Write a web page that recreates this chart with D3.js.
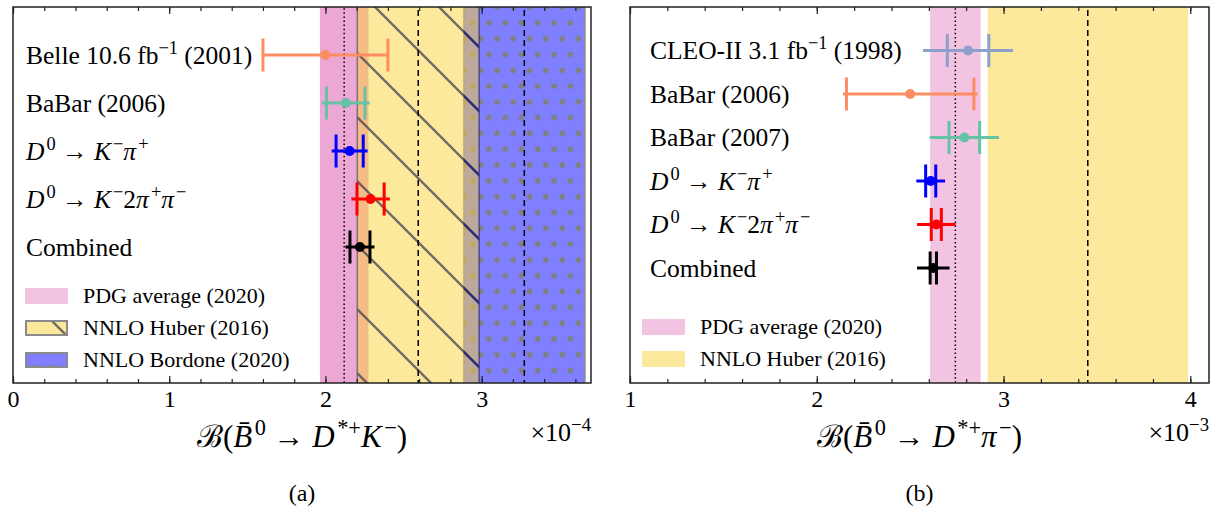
<!DOCTYPE html>
<html>
<head>
<meta charset="utf-8">
<script src="https://cdn.jsdelivr.net/npm/d3@7"></script>
<style>
  body { margin: 0; background: #fff; }
  svg { display: block; }
  text { font-family: "Liberation Serif", "DejaVu Serif", serif; fill: #000; }
</style>
</head>
<body>
<div id="chart"></div>
<script>
'use strict';

// panel (a): B0bar -> D*+ K-  (units 1e-4)
var kLabels = ['Belle 10.6 fb{s:\u22121} (2001)', 'BaBar (2006)',
  '{i:D}{s:0} \u2192 {i:K}{s:\u2212}{i:\u03c0}{s:+}',
  '{i:D}{s:0} \u2192 {i:K}{s:\u2212}2{i:\u03c0}{s:+}{i:\u03c0}{s:\u2212}', 'Combined'];
var kValues = [2.00, 2.13, 2.155, 2.289, 2.221];
var kErrCap = [0.40, 0.123, 0.087, 0.087, 0.064];
var kErrLine = [0.40, 0.153, 0.115, 0.123, 0.093];
var kColors = ['#fc8d62', '#66c2a5', '#0000ff', '#ff0000', '#000000'];
var kPdg = [2.12, 0.155];
var kHuber = [2.594, 0.39];
var kBordone = [3.273, 0.388];
var kTicks = [0, 1, 2, 3];
var kLegend = ['PDG average (2020)', 'NNLO Huber (2016)', 'NNLO Bordone (2020)'];

// panel (b): B0bar -> D*+ pi-  (units 1e-3)
var pLabels = ['CLEO-II 3.1 fb{s:\u22121} (1998)', 'BaBar (2006)', 'BaBar (2007)',
  '{i:D}{s:0} \u2192 {i:K}{s:\u2212}{i:\u03c0}{s:+}',
  '{i:D}{s:0} \u2192 {i:K}{s:\u2212}2{i:\u03c0}{s:+}{i:\u03c0}{s:\u2212}', 'Combined'];
var pValues = [2.81, 2.50, 2.79, 2.61, 2.64, 2.624];
var pErrCap = [0.111, 0.341, 0.082, 0.027, 0.027, 0.017];
var pErrLine = [0.241, 0.36, 0.186, 0.077, 0.103, 0.087];
var pColors = ['#8da0cb', '#fc8d62', '#66c2a5', '#0000ff', '#ff0000', '#000000'];
var pPdg = [2.742, 0.135];
var pHuber = [3.451, 0.536];
var pTicks = [1, 2, 3, 4];
var pLegend = ['PDG average (2020)', 'NNLO Huber (2016)'];

var W = 1228, H = 512;
var PINK = 'rgba(229,137,197,0.5)', YELLOW = 'rgba(251,211,55,0.5)', BLUE = 'rgba(0,0,255,0.5)';

var svg = d3.select('#chart').append('svg').attr('width', W).attr('height', H);
var defs = svg.append('defs');

// hatch for Huber band
function hatch(id, col) {
  var p = defs.append('pattern').attr('id', id).attr('patternUnits', 'userSpaceOnUse')
    .attr('x', 0).attr('y', 16).attr('width', 64).attr('height', 64);
  p.append('path').attr('d', 'M-8,-8L72,72M-8,56L8,72M56,-8L72,8')
    .attr('stroke', col).attr('stroke-width', 2.4).attr('fill', 'none');
}
hatch('hatch', 'rgba(60,60,80,0.72)');
hatch('hatchBlue', 'rgba(30,30,120,0.78)');

var dots = defs.append('pattern').attr('id', 'dots').attr('patternUnits', 'userSpaceOnUse')
  .attr('x', 4).attr('y', 3).attr('width', 16.3).attr('height', 31.6);
dots.append('circle').attr('cx', 4).attr('cy', 4).attr('r', 2.8).attr('fill', '#808080');
dots.append('circle').attr('cx', 12.15).attr('cy', 19.8).attr('r', 2.8).attr('fill', '#808080');

// {i:..} italic, {s:..} superscript
function richText(sel, str, size) {
  var re = /\{([is]):([^}]*)\}|([^{]+)/g, m, up = false, sh = size * 0.4, prev = 'n';
  while ((m = re.exec(str))) {
    var kind = m[1] || 'n', txt = m[1] ? m[2] : m[3];
    var t = sel.append('tspan').text(txt);
    if (kind === 's') {
      t.attr('font-size', size * 0.72);
      if (!up) { t.attr('dy', -sh); up = true; }
      if (prev === 'i') t.attr('dx', size * 0.08);
    } else {
      if (up) { t.attr('dy', sh); up = false; }
      if (kind === 'i') t.attr('font-style', 'italic');
    }
    prev = kind;
  }
  return sel;
}

function panel(o) {
  var x = d3.scaleLinear().domain(o.xDomain).range([o.left, o.right]);
  var y = d3.scaleLinear().domain(o.yDomain).range([7, 383]);
  var g = svg.append('g');
  var clipId = 'clip' + o.name;
  defs.append('clipPath').attr('id', clipId).append('rect')
    .attr('x', o.left).attr('y', 7).attr('width', o.right - o.left).attr('height', 376);
  var plot = g.append('g').attr('clip-path', 'url(#' + clipId + ')');

  function band(b, fill) {
    return plot.append('rect').attr('x', x(b[0] - b[1])).attr('y', 0)
      .attr('width', x(b[0] + b[1]) - x(b[0] - b[1])).attr('height', H).attr('fill', fill);
  }
  function vline(v, dash, col, w) {
    plot.append('line').attr('x1', x(v)).attr('x2', x(v)).attr('y1', 0).attr('y2', H)
      .attr('stroke', col || '#000').attr('stroke-width', w || 1.5)
      .attr('stroke-dasharray', dash);
  }

  // PDG band (drawn twice in (a))
  for (var i = 0; i < o.pdgLayers; i++) band(o.pdg, PINK);
  if (o.bordone) {
    band(o.bordone, BLUE);
    band(o.bordone, 'url(#dots)');
    vline(o.bordone[0] - o.bordone[1], null, 'rgba(110,110,140,0.6)', 1.5);
    vline(o.bordone[0] + o.bordone[1], null, 'rgba(140,140,140,0.8)', 2);
  }
  band(o.huber, YELLOW);
  if (o.hatched) {
    band(o.huber, 'url(#hatch)');
    var lo = Math.max(o.huber[0] - o.huber[1], o.bordone[0] - o.bordone[1]);
    var hi = Math.min(o.huber[0] + o.huber[1], o.bordone[0] + o.bordone[1]);
    band([(lo + hi) / 2, (hi - lo) / 2], 'url(#hatchBlue)');
    vline(o.huber[0] - o.huber[1], null, 'rgba(90,90,100,0.75)', 1.5);
    vline(o.huber[0] + o.huber[1], null, 'rgba(50,50,120,0.75)', 1.5);
  }
  vline(o.pdg[0], '1.5,2.6');
  vline(o.huber[0], '6,4');
  if (o.bordone) vline(o.bordone[0], '6,4');

  // measurements
  var rows = plot.selectAll('g.pt').data(o.values).enter().append('g')
    .attr('transform', function(d, i) { return 'translate(0,' + y(i) + ')'; });
  rows.append('line')
    .attr('x1', function(d, i) { return x(d - o.errLine[i]); })
    .attr('x2', function(d, i) { return x(d + o.errLine[i]); })
    .attr('stroke', function(d, i) { return o.colors[i]; }).attr('stroke-width', 3);
  [-1, 1].forEach(function(s) {
    rows.append('line')
      .attr('x1', function(d, i) { return x(d + s * o.errCap[i]); })
      .attr('x2', function(d, i) { return x(d + s * o.errCap[i]); })
      .attr('y1', -16.5).attr('y2', 16.5)
      .attr('stroke', function(d, i) { return o.colors[i]; }).attr('stroke-width', 3);
  });
  rows.append('circle').attr('cx', function(d) { return x(d); }).attr('r', 5)
    .attr('fill', function(d, i) { return o.colors[i]; });

  // row labels
  o.labels.forEach(function(l, i) {
    richText(g.append('text').attr('x', o.left + o.labelOffset).attr('y', y(i) + 9)
      .attr('font-size', 25.5), l, 25.5);
  });

  // legend
  o.legend.forEach(function(l, i) {
    var ly = o.legendY + i * 32;
    var lx = o.left + 12;
    var fill = [PINK, YELLOW, BLUE][i];
    if (i === 0 || !o.hatched) {
      g.append('rect').attr('x', lx).attr('y', ly - 8).attr('width', 43).attr('height', 16).attr('fill', fill);
    } else {
      var cid = 'lg' + o.name + i;
      defs.append('clipPath').attr('id', cid).append('rect')
        .attr('x', lx).attr('y', ly - 8).attr('width', 43).attr('height', 16);
      var lg = g.append('g').attr('clip-path', 'url(#' + cid + ')');
      lg.append('rect').attr('x', lx).attr('y', ly - 8).attr('width', 43).attr('height', 16).attr('fill', fill);
      if (i === 1) {
        lg.append('line').attr('x1', lx + 24).attr('y1', ly - 10).attr('x2', lx + 43).attr('y2', ly + 9)
          .attr('stroke', 'rgba(60,60,80,0.72)').attr('stroke-width', 2.4);
      } else {
        [10, 26].forEach(function(dx) {
          lg.append('circle').attr('cx', lx + dx).attr('cy', ly + 8).attr('r', 3.2).attr('fill', '#808080');
        });
      }
      g.append('rect').attr('x', lx + 1).attr('y', ly - 7).attr('width', 41).attr('height', 14)
        .attr('fill', 'none').attr('stroke', '#8a8a8a').attr('stroke-width', 2);
    }
    g.append('text').attr('x', lx + 58).attr('y', ly + 7).attr('font-size', 22).text(l);
  });

  // ticks and frame
  var minor = d3.range(o.xDomain[0], o.xDomain[1] + 1e-9, 0.2);
  var ax = [
    [d3.axisBottom(x).tickValues(minor).tickFormat('').tickSizeInner(-4).tickSizeOuter(0), 383],
    [d3.axisBottom(x).tickValues(o.ticks).tickFormat(d3.format('d')).tickSizeInner(-7).tickSizeOuter(0).tickPadding(7), 383],
    [d3.axisTop(x).tickValues(minor).tickFormat('').tickSizeInner(-4).tickSizeOuter(0), 7],
    [d3.axisTop(x).tickValues(o.ticks).tickFormat('').tickSizeInner(-7).tickSizeOuter(0), 7]
  ];
  ax.forEach(function(a) {
    var ag = g.append('g').attr('transform', 'translate(0,' + a[1] + ')').call(a[0]);
    ag.attr('font-size', 24).attr('font-family', '"Liberation Serif", serif');
    ag.select('.domain').remove();
    ag.selectAll('line').attr('stroke', '#222').attr('stroke-width', 1.2);
    ag.selectAll('text').attr('fill', '#000');
  });
  g.append('rect').attr('x', o.left).attr('y', 7).attr('width', o.right - o.left).attr('height', 376)
    .attr('fill', 'none').attr('stroke', '#222').attr('stroke-width', 1.5);

  var cx = (o.left + o.right) / 2;
  richText(g.append('text').attr('x', cx).attr('y', 447).attr('text-anchor', 'middle')
    .attr('font-size', 31), o.xlabel, 31);
  richText(g.append('text').attr('x', o.right).attr('y', 441).attr('text-anchor', 'end')
    .attr('font-size', 26), o.mult, 26);
  g.append('text').attr('x', cx).attr('y', 501).attr('text-anchor', 'middle')
    .attr('font-size', 24).text(o.tag);
}

panel({
  name: 'a', left: 13, right: 591, xDomain: [0, 3.7], yDomain: [-1, 6.833],
  values: kValues, errCap: kErrCap, errLine: kErrLine, colors: kColors, labels: kLabels,
  labelOffset: 13, pdg: kPdg, huber: kHuber, bordone: kBordone, pdgLayers: 2, hatched: true,
  ticks: kTicks, legend: kLegend, legendY: 296,
  xlabel: '\u212c({i:B\u0304}{s:0} \u2192 {i:D}{s:*+}{i:K}{s:\u2212})', mult: '\u00d710{s:\u22124}', tag: '(a)'
});
panel({
  name: 'b', left: 630, right: 1209, xDomain: [1, 4.1], yDomain: [-1, 7.644],
  values: pValues, errCap: pErrCap, errLine: pErrLine, colors: pColors, labels: pLabels,
  labelOffset: 20, pdg: pPdg, huber: pHuber, bordone: null, pdgLayers: 1, hatched: false,
  ticks: pTicks, legend: pLegend, legendY: 327,
  xlabel: '\u212c({i:B\u0304}{s:0} \u2192 {i:D}{s:*+}{i:\u03c0}{s:\u2212})', mult: '\u00d710{s:\u22123}', tag: '(b)'
});
</script>
</body>
</html>
